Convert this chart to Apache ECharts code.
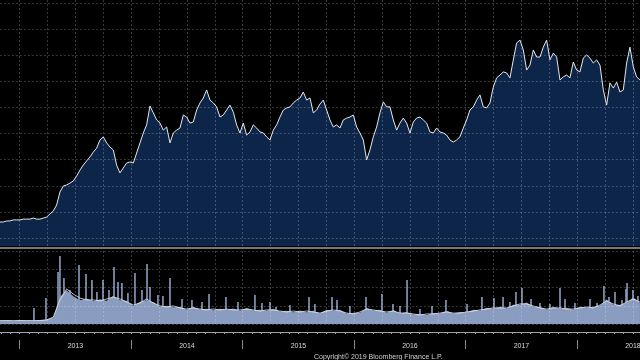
<!DOCTYPE html>
<html><head><meta charset="utf-8">
<script src="https://cdn.jsdelivr.net/npm/echarts/dist/echarts.min.js"></script>
<style>html,body{margin:0;padding:0;background:#000;}#c{width:640px;height:360px;}</style>
</head><body><div id="c"></div>
<script>
// ---- data (decimal years on x) ----
const priceStart = 2012.8233;      // first price date
const priceStep = 0.029895;        // ~11 days between samples
const priceValues = [9.2,9.2,9.6,9.6,10.0,10.0,10.0,10.3,10.3,10.3,10.7,10.3,10.3,10.7,11.1,12.3,13.4,15.7,20.7,23.0,
23.4,24.1,24.9,26.8,29.1,31.0,32.6,34.1,36.0,37.5,40.6,41.8,39.5,37.9,36.8,31.0,28.0,29.9,31.8,32.2,
31.8,35.6,39.5,43.3,46.4,53.6,51.0,48.3,47.1,44.4,45.6,39.5,43.3,44.4,45.2,50.2,49.4,47.1,47.5,52.1,
54.8,56.7,59.8,55.9,54.8,53.3,49.4,50.2,52.1,54.0,51.3,46.4,43.3,47.1,42.5,43.7,46.4,45.2,43.7,43.3,
41.8,40.6,44.4,46.4,49.4,52.1,52.9,53.3,54.8,55.9,56.7,59.0,55.9,56.7,51.0,52.1,54.4,55.9,52.1,48.3,
45.6,46.4,45.2,48.3,49.0,49.4,50.2,45.6,43.3,40.6,33.0,36.8,41.8,45.6,51.0,55.2,53.3,53.3,48.3,44.4,
47.1,49.0,47.1,43.3,47.5,49.0,49.4,48.3,47.1,43.7,43.3,45.2,43.7,43.3,42.5,40.6,39.8,40.6,41.8,45.2,
48.3,52.1,53.3,55.9,57.9,53.3,52.9,54.8,60.9,64.4,65.5,66.7,66.3,64.4,71.3,77.8,78.9,75.1,67.4,69.3,
75.1,72.4,72.4,76.2,78.9,71.3,73.9,72.4,63.6,64.8,65.5,64.4,70.5,67.4,66.7,72.0,73.2,72.0,70.1,71.3,
69.3,59.8,54.0,62.5,60.5,62.8,59.0,59.8,70.1,76.2,68.6,64.8,63.6];

const volStart = 2012.8233;
const volStep = 0.05979;           // ~22 days between samples
const volumeBase = [1.8,2.0,1.7,2.1,1.9,1.8,2.2,2.4,3.5,15.0,18.5,15.2,13.0,14.0,12.5,13.5,12.8,15.5,13.0,12.8,
9.8,12.2,13.0,12.0,9.5,10.0,9.2,9.4,7.8,9.5,7.9,8.3,7.6,8.4,7.8,8.5,7.2,8.8,7.4,7.8,
7.2,8.3,6.8,7.2,6.5,7.4,6.4,7.2,5.8,7.8,7.2,7.8,5.6,6.2,6.2,8.8,7.4,7.8,6.2,7.6,
5.8,6.6,5.2,5.6,5.0,6.0,5.8,7.2,5.7,6.6,6.3,7.8,7.4,8.9,8.4,9.5,8.5,10.6,10.6,11.8,
9.4,9.5,7.8,9.4,8.4,8.9,7.8,9.5,9.0,9.4,10.0,13.4,10.5,10.6,11.6,14.5,11.6];
const volumeMA = [1.9,1.9,1.9,1.9,1.9,1.9,1.9,2.2,3.8,13.2,19.2,16.4,14.2,13.2,13.2,12.6,13.7,14.8,13.7,12.1,
10.4,11.5,13.7,11.5,9.9,9.3,9.9,8.8,8.2,8.8,8.2,7.7,8.2,7.7,8.2,7.7,7.7,8.2,7.7,7.1,
7.7,7.7,7.1,6.6,7.1,6.6,7.1,6.6,6.0,7.1,7.7,7.1,6.0,5.5,6.6,8.2,7.7,7.1,6.6,7.1,
6.0,6.0,5.5,4.9,5.5,5.5,6.0,6.6,6.0,6.0,6.6,7.1,7.7,8.2,8.8,8.8,8.8,9.9,11.0,11.0,
9.9,8.8,8.2,8.8,8.8,8.2,8.2,8.8,9.3,8.8,10.4,12.6,11.0,9.9,12.1,13.7,12.1];

const spikeDates = [2013.128,2013.236,2013.344,2013.361,2013.397,2013.451,2013.532,2013.595,2013.648,2013.693,
2013.747,2013.801,2013.846,2013.882,2013.917,2013.971,2014.034,2014.097,2014.142,2014.169,
2014.240,2014.285,2014.348,2014.456,2014.545,2014.635,2014.698,2014.850,2014.958,2015.110,
2015.173,2015.245,2015.299,2015.424,2015.595,2015.648,2015.801,2015.846,2015.962,2016.106,
2016.249,2016.348,2016.411,2016.474,2016.590,2016.698,2016.823,2017.012,2017.146,2017.254,
2017.335,2017.397,2017.451,2017.505,2017.586,2017.666,2017.756,2017.846,2017.891,2017.980,
2018.115,2018.178,2018.240,2018.285,2018.339,2018.402,2018.438,2018.447,2018.500,2018.545];
const spikeVolumes = [8.8,14.2,28.5,37.3,25.2,18.6,32.3,27.4,24.1,17.5,
24.1,18.6,31.2,23.0,22.5,17.0,27.9,18.6,32.9,20.3,
15.9,15.3,25.2,13.7,13.2,12.1,16.4,14.8,12.1,15.9,
11.5,12.1,9.3,10.4,14.8,11.0,14.8,13.2,9.9,14.8,
16.4,11.0,9.9,24.1,8.2,9.9,13.2,11.0,14.8,14.2,
14.8,12.1,17.5,19.7,13.7,11.5,11.0,19.7,13.7,11.5,
13.7,11.5,20.8,14.8,17.5,13.2,19.2,22.5,18.6,15.3];

const yearLabels = ['2013','2014','2015','2016','2017','2018'];
const copyrightText = 'Copyright\u00A9 2019 Bloomberg Finance L.P.';

// ---- build ----
const priceData = priceValues.map((v, i) => [priceStart + i * priceStep, v]);
const volData = volumeBase.map((v, i) => [volStart + i * volStep, v]);
const maData = volumeMA.map((v, i) => [volStart + i * volStep, v]);
const spikeData = spikeDates.map((d, i) => [d, spikeVolumes[i]]);

const X_MIN = 2012.75, X_MAX = 2018.75;
const GL = -8.2, GW = 669;
const gridLine = { lineStyle: { color: 'rgba(255,255,255,0.22)', type: [2, 2], width: 1 } };
const FONT = 'Liberation Sans';
const G = { containLabel: false, outerBoundsMode: 'none' };

const chart = echarts.init(document.getElementById('c'), null, { renderer: 'canvas' });
chart.setOption({
  backgroundColor: '#000',
  animation: false,
  textStyle: { fontFamily: FONT },
  title: {
    text: copyrightText, left: 309, top: 349,
    textStyle: { color: '#d0d0d0', fontSize: 7, fontWeight: 'normal', fontFamily: FONT }
  },
  grid: [
    Object.assign({ left: GL, width: GW, top: 0, height: 246 }, G),   // price
    Object.assign({ left: GL, width: GW, top: 3, height: 235 }, G),   // price grid lines
    Object.assign({ left: GL, width: GW, top: 251, height: 73 }, G),  // volume
    Object.assign({ left: 19.7, width: GW, top: 340, height: 9 }, G)  // year separators
  ],
  xAxis: [
    { gridIndex: 0, type: 'value', min: X_MIN, max: X_MAX, interval: 0.25, z: 5,
      axisLine: { show: true, onZero: false, lineStyle: { color: '#777', width: 2 } }, offset: 1.5,
      axisTick: { show: false }, axisLabel: { show: false },
      splitLine: Object.assign({ show: true }, gridLine) },
    { gridIndex: 1, type: 'value', min: X_MIN, max: X_MAX, show: false },
    { gridIndex: 2, type: 'value', min: X_MIN, max: X_MAX, interval: 0.25, z: 5, offset: 8,
      axisLine: { show: true, onZero: false, lineStyle: { color: '#a0a0a0', width: 1 } },
      axisTick: { show: true, length: 2, lineStyle: { color: '#a0a0a0' } },
      minorTick: { show: true, splitNumber: 3, length: 2, lineStyle: { color: '#a0a0a0' } },
      axisLabel: { show: true, margin: 11, color: '#d8d8d8', fontSize: 7, fontFamily: FONT,
        showMinLabel: true, showMaxLabel: true,
        formatter: v => { const y = Math.floor(v + 1e-6); return Math.abs(v - y - 0.5) < 1e-4 ? (yearLabels[y - 2013] || '') : ''; } },
      splitLine: Object.assign({ show: true }, gridLine) },
    { gridIndex: 3, type: 'value', min: 2013, max: 2019, interval: 1,
      axisLine: { show: false }, axisTick: { show: false }, axisLabel: { show: false },
      splitLine: { show: true, lineStyle: { color: '#8a8a8a', width: 1 } } }
  ],
  yAxis: [
    { gridIndex: 0, type: 'value', min: 0, max: 94.25, show: false, splitLine: { show: false } },
    { gridIndex: 1, type: 'value', min: 0, max: 9, interval: 1, z: 5,
      axisLine: { show: false }, axisTick: { show: false }, axisLabel: { show: false },
      splitLine: Object.assign({ show: true }, gridLine) },
    { gridIndex: 2, type: 'value', min: 0, max: 40, interval: 10, z: 5,
      axisLine: { show: false }, axisTick: { show: false }, axisLabel: { show: false },
      splitLine: Object.assign({ show: true }, gridLine) },
    { gridIndex: 3, type: 'value', min: 0, max: 1, show: false, splitLine: { show: false } }
  ],
  series: [
    { name: 'Price', type: 'line', xAxisIndex: 0, yAxisIndex: 0, data: priceData,
      showSymbol: false, symbol: 'none', z: 2,
      lineStyle: { color: '#e4e8ee', width: 1 },
      areaStyle: { color: '#0c2548', opacity: 1 } },
    { name: 'Volume', type: 'line', xAxisIndex: 2, yAxisIndex: 2, data: volData,
      showSymbol: false, symbol: 'none', z: 2,
      lineStyle: { width: 0, color: '#8a9dc0' },
      areaStyle: { color: '#8a9dc0', opacity: 1 } },
    { name: 'Volume spikes', type: 'bar', xAxisIndex: 2, yAxisIndex: 2, data: spikeData,
      barWidth: 1.6, z: 2, itemStyle: { color: '#8a9dc0' } },
    { name: 'Volume MA', type: 'line', xAxisIndex: 2, yAxisIndex: 2, data: maData,
      showSymbol: false, symbol: 'none', z: 3,
      lineStyle: { color: '#e8e8e8', width: 0.8 } }
  ]
});
</script></body></html>
